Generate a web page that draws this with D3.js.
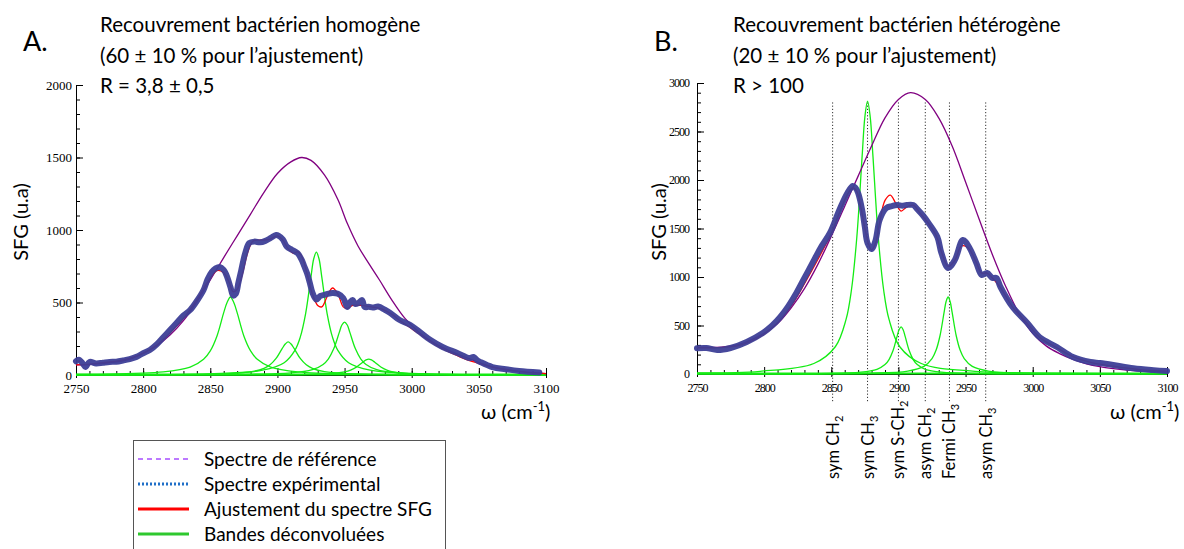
<!DOCTYPE html>
<html><head><meta charset="utf-8">
<script src="https://cdn.jsdelivr.net/npm/d3@7"></script>
<style>body{margin:0;background:#fff}svg{display:block}</style>
</head><body><svg id="c" width="1184" height="549"></svg>
<script>
// ---------- DATA : panel A (homogène) ----------
const A_reference = [[2750,70],[2760,72],[2770,80],[2780,90],[2790,110],[2800,150],[2810,200],[2820,275],[2830,375],[2840,505],[2850,655],[2860,810],[2870,960],[2880,1110],[2890,1260],[2900,1390],[2910,1470],[2918,1500],[2925,1480],[2935,1380],[2945,1210],[2952,1046],[2960,890],[2968,770],[2976,655],[2985,520],[2995,390],[3006,290],[3015,230],[3025,180],[3035,140],[3045,105],[3055,70],[3065,45],[3080,25],[3100,10]];
const A_experimental = [[2750,95],[2752,105],[2755,80],[2757,55],[2760,90],[2765,80],[2770,85],[2775,90],[2780,92],[2785,100],[2790,110],[2795,125],[2800,150],[2805,172],[2810,210],[2815,260],[2820,310],[2825,360],[2830,410],[2835,448],[2840,510],[2845,586],[2848,660],[2851,710],[2854,735],[2857,745],[2860,725],[2862,690],[2865,607],[2867,548],[2869,560],[2871,640],[2873,720],[2876,841],[2879,910],[2883,920],[2887,915],[2891,925],[2895,945],[2899,965],[2901,960],[2904,935],[2907,885],[2911,862],[2915,840],[2918,795],[2920,750],[2922,703],[2924,640],[2926,570],[2929,520],[2932,545],[2936,555],[2941,566],[2945,560],[2949,531],[2952,469],[2954,500],[2956,517],[2958,490],[2960,495],[2963,517],[2965,469],[2968,470],[2971,465],[2975,472],[2980,450],[2984,428],[2991,379],[2999,345],[3006,297],[3014,241],[3023,193],[3034,152],[3043,117],[3046,124],[3049,100],[3051,90],[3060,55],[3070,40],[3080,28],[3095,18]];
const A_fit = [[2750,70],[2760,75],[2770,85],[2780,95],[2790,115],[2800,150],[2810,205],[2820,290],[2830,390],[2840,520],[2848,640],[2855,720],[2860,705],[2864,640],[2867,575],[2870,590],[2874,700],[2878,850],[2882,925],[2888,930],[2894,935],[2900,960],[2904,930],[2908,870],[2912,840],[2915,850],[2918,820],[2922,700],[2926,560],[2930,480],[2933,470],[2937,540],[2941,600],[2945,560],[2949,470],[2952,460],[2956,480],[2962,480],[2970,470],[2978,455],[2985,420],[2992,370],[3000,320],[3010,255],[3020,195],[3030,150],[3040,110],[3050,80],[3060,55],[3070,38],[3080,25],[3090,15],[3100,10]];
const A_band1 = [[2750,4],[2765,5],[2815,21],[2835,54],[2845,108],[2850,166],[2855,269],[2860,430],[2862.5,500],[2865,538],[2867.5,500],[2870,430],[2875,269],[2880,166],[2885,108],[2895,54],[2915,21],[2965,5],[3100,1]];
const A_band2 = [[2750,1],[2818,2],[2863,9],[2881,23],[2890,46],[2894.5,70],[2899,114],[2903.5,182],[2906,215],[2908,228],[2910,215],[2912.5,182],[2917,114],[2921.5,70],[2926,46],[2935,23],[2953,9],[2998,2],[3100,0.5]];
const A_band3 = [[2750,1.7],[2769,2.1],[2849,8.3],[2889,33],[2905,85],[2913,170],[2917,261],[2921,424],[2925,678],[2927,800],[2929,848],[2931,800],[2933,678],[2937,424],[2941,261],[2945,170],[2953,85],[2969,33],[3009,8.3],[3089,2.1],[3100,1.8]];
const A_band4 = [[2750,0.6],[2870,3.6],[2910,14],[2926,36.5],[2934,73],[2938,112],[2942,182],[2946,292],[2948,345],[2950,365],[2952,345],[2954,292],[2958,182],[2962,112],[2966,73],[2974,36.5],[2990,14],[3030,3.6],[3100,1]];
const A_band5 = [[2750,0.2],[2878,1],[2923,4.2],[2941,11],[2950,22],[2954.5,34],[2959,55],[2963.5,88],[2966,104],[2968,110],[2970,104],[2972.5,88],[2977,55],[2981.5,34],[2986,22],[2995,11],[3013,4.2],[3058,1],[3100,0.5]];

// ---------- DATA : panel B (hétérogène) ----------
const B_reference = [[2750,275],[2760,275],[2770,280],[2780,300],[2790,350],[2800,420],[2810,520],[2820,680],[2830,880],[2840,1130],[2850,1420],[2860,1730],[2870,2040],[2880,2350],[2890,2640],[2900,2830],[2909,2900],[2920,2830],[2930,2640],[2940,2350],[2950,1980],[2960,1600],[2970,1230],[2980,900],[2990,620],[3000,420],[3010,290],[3020,210],[3030,150],[3040,105],[3050,75],[3060,55],[3070,40],[3080,30],[3090,25],[3100,20]];
const B_experimental = [[2750,265],[2757,268],[2765,247],[2775,268],[2787,330],[2799,423],[2806,500],[2812,588],[2818,700],[2824,835],[2830,990],[2836,1144],[2842,1300],[2849,1454],[2856,1691],[2862,1866],[2866,1938],[2868,1920],[2870,1866],[2873,1691],[2875,1515],[2877,1350],[2880,1289],[2883,1381],[2886,1588],[2891,1711],[2895,1730],[2899,1742],[2903,1735],[2906,1742],[2911,1742],[2914,1700],[2918,1639],[2923,1545],[2929,1412],[2932,1247],[2937,1093],[2942,1175],[2948,1381],[2953,1299],[2958,1144],[2962,1021],[2966,1041],[2970,990],[2973,990],[2976,897],[2985,691],[2996,526],[3005,381],[3018,278],[3030,175],[3043,124],[3050,113],[3060,93],[3075,60],[3090,40],[3100,30]];
const B_fit = [[2750,270],[2760,270],[2770,275],[2780,290],[2790,335],[2800,410],[2810,530],[2820,700],[2830,930],[2840,1180],[2850,1450],[2856,1660],[2862,1850],[2866,1920],[2869,1880],[2872,1720],[2875,1500],[2878,1330],[2880,1280],[2883,1350],[2886,1560],[2890,1790],[2894,1845],[2898,1760],[2902,1680],[2906,1720],[2911,1740],[2916,1660],[2922,1560],[2928,1430],[2932,1260],[2937,1110],[2942,1170],[2947,1320],[2952,1300],[2958,1150],[2962,1040],[2966,1040],[2970,990],[2976,890],[2985,690],[2996,520],[3005,380],[3018,270],[3030,180],[3043,120],[3060,80],[3080,45],[3100,30]];
const B_band1 = [[2750,11],[2797,28],[2837,108],[2853,281],[2861,563],[2865,866],[2869,1407],[2873,2251],[2875,2648],[2877,2814],[2879,2648],[2881,2251],[2885,1407],[2889,866],[2893,563],[2901,281],[2917,108],[2957,28],[3037,7],[3100,3.6]];
const B_band2 = [[2750,0.8],[2842,4.8],[2872,18.7],[2884,48.5],[2890,97],[2893,149],[2896,242],[2899,388],[2900.5,456],[2902,485],[2903.5,456],[2905,388],[2908,242],[2911,149],[2914,97],[2920,48.5],[2932,18.7],[2962,4.8],[3100,0.4]];
const B_band3 = [[2750,0.8],[2877,7.8],[2907,30.5],[2919,79],[2925,159],[2928,244],[2931,397],[2934,635],[2935.5,747],[2937,794],[2938.5,747],[2940,635],[2943,397],[2946,244],[2949,159],[2955,79],[2967,30.5],[2997,7.8],[3100,1.1]];
const B_markPositions = [2851, 2877, 2900, 2920, 2938, 2965];
const B_markLabels = [["sym CH","2"],["sym CH","3"],["sym S-CH","2"],["asym CH","2"],["Fermi CH","3"],["asym CH","3"]];

// ---------- axes / text ----------
const xDomain = [2750, 3100];
const xMajorTicks = [2750, 2800, 2850, 2900, 2950, 3000, 3050, 3100];
const A_yDomain = [0, 2000];
const A_yMajorTicks = [0, 500, 1000, 1500, 2000];
const B_yDomain = [0, 3000];
const B_yMajorTicks = [0, 500, 1000, 1500, 2000, 2500, 3000];
const A_title = ["Recouvrement bactérien homogène", "(60 ± 10 % pour l’ajustement)", "R = 3,8 ± 0,5"];
const B_title = ["Recouvrement bactérien hétérogène", "(20 ± 10 % pour l’ajustement)", "R > 100"];
const legendLabels = ["Spectre de référence", "Spectre expérimental", "Ajustement du spectre SFG", "Bandes déconvoluées"];

// ---------- drawing ----------
const svg = d3.select("#c");
const TXT = "Lato, 'Open Sans', sans-serif";
const SERIF = "'Liberation Serif', 'DejaVu Serif', serif";

function panel(cfg) {
  const x = d3.scaleLinear().domain(xDomain).range([cfg.x0, cfg.x1]);
  const y = d3.scaleLinear().domain(cfg.yDomain).range([cfg.yb, cfg.yt]);
  const g = svg.append("g");
  const line = d3.line().x(d => x(d[0])).y(d => y(d[1])).curve(d3.curveCatmullRom.alpha(0.5));

  if (cfg.marks) {
    cfg.marks.forEach((m, i) => {
      g.append("line").attr("x1", x(m)).attr("x2", x(m))
        .attr("y1", y(2800)).attr("y2", cfg.yb + 28)
        .attr("stroke", "#333").attr("stroke-width", 1).attr("stroke-dasharray", "1.2,2");
      const t = g.append("text")
        .attr("transform", `translate(${x(m) + 6},479) rotate(-90)`)
        .attr("font-family", TXT).attr("font-size", 16.5).attr("fill", "#000");
      t.append("tspan").text(cfg.markLabels[i][0]);
      t.append("tspan").attr("font-size", 11).attr("dy", 4).text(cfg.markLabels[i][1]);
    });
  }

  const minorY = d3.range(cfg.yDomain[0], cfg.yDomain[1] + 1, 100);
  const minorX = d3.range(xDomain[0], xDomain[1] + 1, 10);
  const gy = g.append("g").attr("transform", `translate(${cfg.x0},0)`);
  gy.call(d3.axisLeft(y).tickValues(minorY).tickSize(-4).tickSizeOuter(0).tickFormat(""));
  const gy2 = g.append("g").attr("transform", `translate(${cfg.x0},0)`);
  gy2.call(d3.axisLeft(y).tickValues(cfg.yTicks).tickSize(-7).tickSizeOuter(0).tickPadding(cfg.yPad).tickFormat(d3.format("d")));
  const gx = g.append("g").attr("transform", `translate(0,${cfg.yb})`);
  gx.call(d3.axisBottom(x).tickValues(minorX).tickSize(-4).tickSizeOuter(0).tickFormat(""));
  const gx2 = g.append("g").attr("transform", `translate(0,${cfg.yb})`);
  gx2.call(d3.axisBottom(x).tickValues(xMajorTicks).tickSize(-7).tickSizeOuter(0).tickPadding(cfg.xPad).tickFormat(d3.format("d")));
  gx2.selectAll(".tick line").attr("y2", 3).attr("y1", -7);
  [gy, gy2, gx, gx2].forEach(a => {
    a.selectAll("path,line").attr("stroke", "#000").attr("stroke-width", 1);
    a.selectAll("text").attr("font-family", SERIF).attr("font-size", cfg.fs).attr("fill", "#000")
      .attr("letter-spacing", cfg.ls);
  });

  cfg.bands.forEach(b => g.append("path").attr("d", line(b)).attr("fill", "none")
    .attr("stroke", "#14ec14").attr("stroke-width", 1.3));
  g.append("line").attr("x1", cfg.x0).attr("x2", cfg.x1).attr("y1", cfg.yb - 0.5).attr("y2", cfg.yb - 0.5)
    .attr("stroke", "#14ec14").attr("stroke-width", 2.2);
  g.append("path").attr("d", line(cfg.ref)).attr("fill", "none").attr("stroke", "#800080").attr("stroke-width", 1.3);
  g.append("path").attr("d", line(cfg.fit)).attr("fill", "none").attr("stroke", "#ff0000").attr("stroke-width", 1.3);
  g.append("path").attr("d", line(cfg.exp)).attr("fill", "none").attr("stroke", "#3d3f97")
    .attr("stroke-width", 6).attr("stroke-linejoin", "round").attr("stroke-linecap", "round").attr("opacity", 0.95);

  g.append("text").attr("transform", `translate(${cfg.ylabX},222) rotate(-90)`).attr("text-anchor", "middle")
    .attr("font-family", TXT).attr("font-size", 20).attr("fill", "#000").text("SFG (u.a)");
  const xt = g.append("text").attr("x", cfg.xlabX).attr("y", 419)
    .attr("font-family", TXT).attr("font-size", 20).attr("fill", "#000");
  xt.append("tspan").text("ω (cm");
  xt.append("tspan").attr("font-size", 13).attr("dy", -8).text("-1");
  xt.append("tspan").attr("dy", 8).text(")");

  svg.append("text").attr("x", cfg.letterX).attr("y", 51).attr("font-family", TXT).attr("font-size", 27).text(cfg.letter);
  cfg.title.forEach((s, i) => svg.append("text").attr("x", cfg.titleX).attr("y", 32 + i * 30.5)
    .attr("font-family", TXT).attr("font-size", 20.5).attr("fill", "#000").text(s));
}

panel({x0: 76, x1: 546, yb: 375, yt: 85, yDomain: A_yDomain, yTicks: A_yMajorTicks, yPad: 4, xPad: 9, ls: 0, fs: 13,
  bands: [A_band1, A_band2, A_band3, A_band4, A_band5], ref: A_reference, fit: A_fit, exp: A_experimental,
  ylabX: 28, xlabX: 481, letter: "A.", letterX: 23, title: A_title, titleX: 100});
panel({x0: 697, x1: 1167, yb: 374, yt: 83, yDomain: B_yDomain, yTicks: B_yMajorTicks, yPad: 8, xPad: 9, ls: -1, fs: 12,
  bands: [B_band1, B_band2, B_band3], ref: B_reference, fit: B_fit, exp: B_experimental,
  marks: B_markPositions, markLabels: B_markLabels,
  ylabX: 666, xlabX: 1110, letter: "B.", letterX: 654, title: B_title, titleX: 733});

const lg = svg.append("g");
lg.append("rect").attr("x", 133.5).attr("y", 440.5).attr("width", 312).attr("height", 130)
  .attr("fill", "none").attr("stroke", "#555").attr("stroke-width", 1);
const legendStyles = [
  {c: "#a64dff", w: 1.5, d: "5,4"},
  {c: "#1f6fc8", w: 3, d: "2,2"},
  {c: "#ff0000", w: 3, d: null},
  {c: "#2ec82e", w: 3, d: null}
];
legendLabels.forEach((s, i) => {
  const yy = 459 + i * 25;
  const ln = lg.append("line").attr("x1", 138).attr("x2", 189).attr("y1", yy).attr("y2", yy)
    .attr("stroke", legendStyles[i].c).attr("stroke-width", legendStyles[i].w);
  if (legendStyles[i].d) ln.attr("stroke-dasharray", legendStyles[i].d);
  lg.append("text").attr("x", 204).attr("y", yy + 6.5).attr("font-family", TXT).attr("font-size", 19)
    .attr("fill", "#000").text(s);
});
</script></body></html>
